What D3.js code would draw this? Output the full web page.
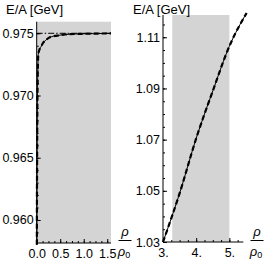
<!DOCTYPE html>
<html>
<head>
<meta charset="utf-8">
<script src="https://cdn.jsdelivr.net/npm/d3@7"></script>
<style>
    body { margin: 0; background: #fff; }
    svg { display: block; font-family: "Liberation Sans", Arial, sans-serif; }
    .tick text { font-size: 12.5px; fill: #000; }
</style>
</head>
<body>
<svg id="chart" width="266" height="266"></svg>
<script>
// left panel: low density
var left_rho = [0.003, 0.005, 0.008, 0.012, 0.02, 0.034, 0.06, 0.09, 0.13, 0.18, 0.28, 0.43, 0.6, 0.9, 1.2, 1.58];
var left_ea = [0.9580, 0.9615, 0.9645, 0.9680, 0.9712, 0.9733, 0.9737, 0.9739, 0.9742, 0.9744, 0.97468, 0.97481, 0.97490, 0.97495, 0.97497, 0.97499];
var left_vacuum = 0.975;
var left_x_ticks = [0.0, 0.5, 1.0, 1.5];
var left_y_ticks = [0.960, 0.965, 0.970, 0.975];

// right panel: high density
var right_rho = [3.0, 3.5, 4.0, 4.5, 5.0, 5.52];
var right_ea = [1.030, 1.049, 1.0705, 1.089, 1.1065, 1.1195];
var right_band = [3.28, 5.0];
var right_x_ticks = [3, 4, 5];
var right_y_ticks = [1.03, 1.05, 1.07, 1.09, 1.11];

var svg = d3.select("#chart");

function draw_panel(opts) {
    var x = d3.scaleLinear().domain(opts.xdomain).range(opts.xrange);
    var y = d3.scaleLinear().domain(opts.ydomain).range(opts.yrange);
    var g = svg.append("g");

    g.append("rect")
        .attr("x", x(opts.band[0]))
        .attr("y", y(opts.ydomain[1]))
        .attr("width", x(opts.band[1]) - x(opts.band[0]))
        .attr("height", y(opts.ydomain[0]) - y(opts.ydomain[1]))
        .attr("fill", "#d4d4d4");

    // minor ticks
    var x0 = opts.xdomain[0];
    g.append("g")
        .attr("transform", `translate(0,${opts.yrange[0]})`)
        .call(d3.axisBottom(x).tickValues(d3.range(x0, opts.xdomain[1] + 1e-9, opts.xminor)).tickSize(-2).tickFormat(""))
        .call(a => a.select(".domain").remove());
    g.append("g")
        .attr("transform", `translate(${opts.xrange[0]},0)`)
        .call(d3.axisLeft(y).tickValues(d3.range(opts.yminor_start, opts.ydomain[1] + 1e-9, opts.yminor)).tickSize(-2).tickFormat(""))
        .call(a => a.select(".domain").remove());

    // major ticks + axes
    g.append("g")
        .attr("transform", `translate(0,${opts.yrange[0]})`)
        .call(d3.axisBottom(x).tickValues(opts.xticks).tickSize(-4).tickPadding(6).tickFormat(opts.xformat))
        .call(a => a.select(".domain").attr("d", `M${opts.xrange[0]},0H${opts.xrange[1]}`));
    g.append("g")
        .attr("transform", `translate(${opts.xrange[0]},0)`)
        .call(d3.axisLeft(y).tickValues(opts.yticks).tickSize(-4).tickPadding(3).tickFormat(opts.yformat))
        .call(a => a.select(".domain").attr("d", `M0,${opts.yrange[0]}V${opts.yrange[1]}`));

    g.selectAll(".tick line").attr("stroke", "#000");
    g.selectAll(".domain").attr("stroke", "#000");

    var line = d3.line()
        .x((d, i) => x(opts.rho[i]))
        .y(d => y(d))
        .curve(d3.curveMonotoneX);

    if (opts.hline != null) {
        g.append("line")
            .attr("x1", x(opts.xdomain[0])).attr("x2", x(opts.xdomain[1]))
            .attr("y1", y(opts.hline)).attr("y2", y(opts.hline))
            .attr("stroke", "#000").attr("stroke-width", 1)
            .attr("stroke-dasharray", "6,2,1.5,2");
    }

    g.append("path")
        .attr("d", line(opts.ea))
        .attr("fill", "none").attr("stroke", "#000").attr("stroke-width", 1);
    g.append("path")
        .attr("d", line(opts.ea))
        .attr("fill", "none").attr("stroke", "#000").attr("stroke-width", 2.2)
        .attr("stroke-dasharray", "5,3");

    // y label
    svg.append("text")
        .attr("x", opts.ylabel_x).attr("y", 14)
        .attr("font-size", 13)
        .text("E/A [GeV]");

    // rho / rho0 fraction
    var fx = opts.frac_x;
    svg.append("text").attr("x", fx).attr("y", 236)
        .attr("text-anchor", "middle").attr("font-size", 13).attr("font-style", "italic").text("ρ");
    svg.append("line").attr("x1", fx - 6.5).attr("x2", fx + 6.5).attr("y1", 240.5).attr("y2", 240.5)
        .attr("stroke", "#000").attr("stroke-width", 1);
    var t = svg.append("text").attr("x", fx - 1).attr("y", 256)
        .attr("text-anchor", "middle").attr("font-size", 13).attr("font-style", "italic");
    t.append("tspan").text("ρ");
    t.append("tspan").attr("font-size", 9).attr("font-style", "normal").attr("dy", 2).text("0");
}

draw_panel({
    rho: left_rho, ea: left_ea,
    xdomain: [0, 1.58], xrange: [36.7, 111],
    ydomain: [0.95815, 0.97593], yrange: [243, 21.7],
    band: [0, 1.58],
    xticks: left_x_ticks, xminor: 0.125, xformat: d3.format(".1f"),
    yticks: left_y_ticks, yminor: 0.001, yminor_start: 0.959, yformat: d3.format(".3f"),
    hline: left_vacuum,
    ylabel_x: 6, frac_x: 125
});

draw_panel({
    rho: right_rho, ea: right_ea,
    xdomain: [3, 5.42], xrange: [163, 243.3],
    ydomain: [1.03, 1.1187], yrange: [242, 15],
    band: right_band,
    xticks: right_x_ticks, xminor: 0.25, xformat: d => d + ".",
    yticks: right_y_ticks, yminor: 0.005, yminor_start: 1.03, yformat: d3.format(".2f"),
    hline: null,
    ylabel_x: 133, frac_x: 257
});
</script>
</body>
</html>
